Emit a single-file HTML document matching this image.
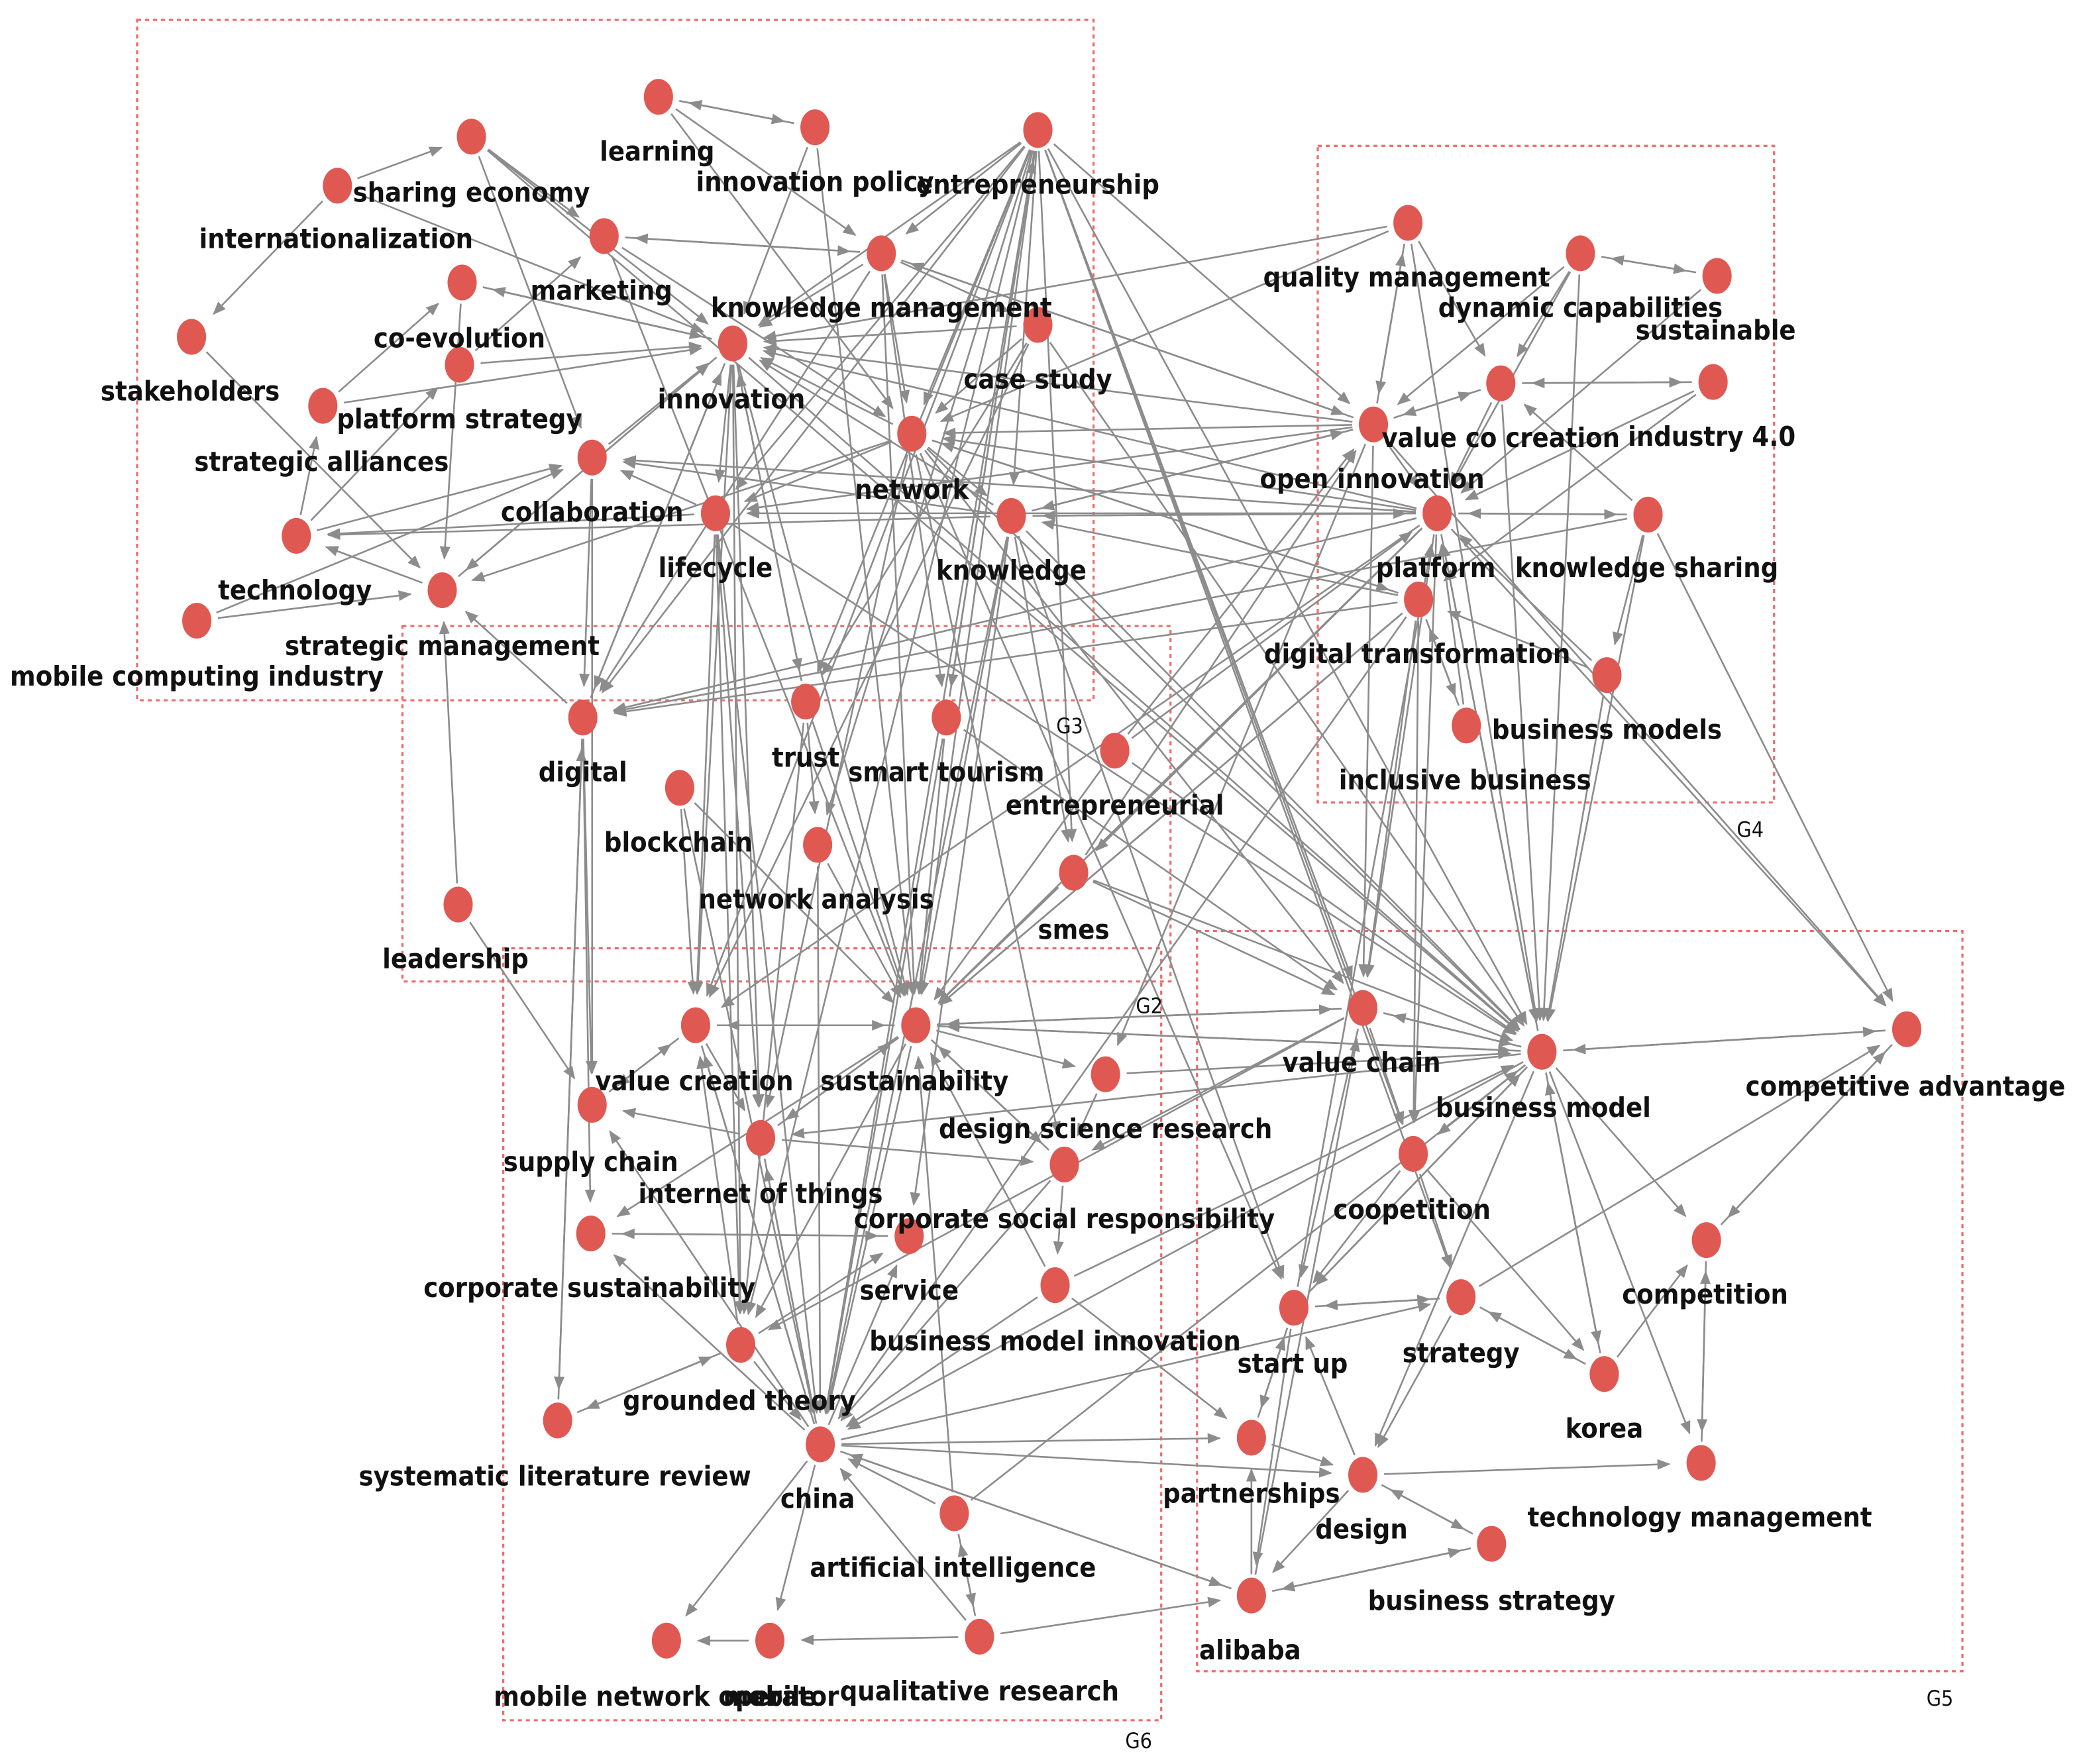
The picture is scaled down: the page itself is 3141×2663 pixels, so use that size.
<!DOCTYPE html>
<html><head><meta charset="utf-8"><style>
html,body{margin:0;padding:0;background:#fff;}
svg{display:block;}
text{font-family:"DejaVu Sans Condensed","Liberation Sans Narrow","Liberation Sans",sans-serif;font-weight:bold;font-size:20.6px;fill:#111;text-anchor:middle;}
.g{font-weight:normal;font-size:16px;}
</style></head><body>
<svg id="s" width="3141" height="2663" viewBox="0 0 1568 1330" xmlns="http://www.w3.org/2000/svg">
<defs><marker id="a" markerWidth="10" markerHeight="8" refX="9" refY="4" orient="auto" markerUnits="userSpaceOnUse"><path d="M0,0 L10,4 L0,8 Z" fill="#8c8c8c"/></marker></defs>
<g fill="none" stroke="#f06a6a" stroke-width="1.6" stroke-dasharray="3,3">
<rect x="103" y="15" width="721" height="513"/>
<rect x="993" y="110" width="344" height="495"/>
<rect x="303" y="472" width="579" height="268"/>
<rect x="902" y="702" width="577" height="558"/>
<rect x="379" y="715" width="496" height="582"/>
</g>
<g id="e" stroke="#8c8c8c" stroke-width="1.3" fill="none"></g>
<g id="n" fill="#e05852"></g>
<g>
<text class="g" x="806" y="553">G3</text><text class="g" x="1319" y="631">G4</text><text class="g" x="866" y="764">G2</text><text class="g" x="1462" y="1286">G5</text><text class="g" x="858" y="1318">G6</text>
<text x="495" y="121">learning</text>
<text x="614" y="144">innovation policy</text>
<text x="782" y="146">entrepreneurship</text>
<text x="355" y="152">sharing economy</text>
<text x="253" y="187">internationalization</text>
<text x="453" y="226">marketing</text>
<text x="664" y="239">knowledge management</text>
<text x="346" y="262">co-evolution</text>
<text x="782" y="293">case study</text>
<text x="143" y="302">stakeholders</text>
<text x="551" y="308">innovation</text>
<text x="346" y="323">platform strategy</text>
<text x="242" y="355">strategic alliances</text>
<text x="687" y="376">network</text>
<text x="446" y="393">collaboration</text>
<text x="539" y="435">lifecycle</text>
<text x="762" y="437">knowledge</text>
<text x="222" y="452">technology</text>
<text x="333" y="494">strategic management</text>
<text x="148" y="517">mobile computing industry</text>
<text x="1060" y="216">quality management</text>
<text x="1191" y="239">dynamic capabilities</text>
<text x="1293" y="256">sustainable</text>
<text x="1131" y="337">value co creation</text>
<text x="1290" y="336">industry 4.0</text>
<text x="1034" y="368">open innovation</text>
<text x="1082" y="435">platform</text>
<text x="1241" y="435">knowledge sharing</text>
<text x="1068" y="500">digital transformation</text>
<text x="1211" y="557">business models</text>
<text x="1104" y="595">inclusive business</text>
<text x="439" y="589">digital</text>
<text x="607" y="578">trust</text>
<text x="713" y="589">smart tourism</text>
<text x="840" y="614">entrepreneurial</text>
<text x="511" y="642">blockchain</text>
<text x="615" y="685">network analysis</text>
<text x="809" y="708">smes</text>
<text x="343" y="730">leadership</text>
<text x="523" y="822">value creation</text>
<text x="689" y="822">sustainability</text>
<text x="445" y="883">supply chain</text>
<text x="573" y="907">internet of things</text>
<text x="833" y="858">design science research</text>
<text x="802" y="926">corporate social responsibility</text>
<text x="1026" y="808">value chain</text>
<text x="1163" y="842">business model</text>
<text x="1436" y="826">competitive advantage</text>
<text x="444" y="978">corporate sustainability</text>
<text x="685" y="980">service</text>
<text x="795" y="1018">business model innovation</text>
<text x="1064" y="919">coopetition</text>
<text x="1285" y="983">competition</text>
<text x="974" y="1035">start up</text>
<text x="1101" y="1027">strategy</text>
<text x="1209" y="1084">korea</text>
<text x="557" y="1063">grounded theory</text>
<text x="418" y="1120">systematic literature review</text>
<text x="616" y="1137">china</text>
<text x="943" y="1133">partnerships</text>
<text x="1026" y="1160">design</text>
<text x="1281" y="1151">technology management</text>
<text x="718" y="1189">artificial intelligence</text>
<text x="1124" y="1214">business strategy</text>
<text x="942" y="1251">alibaba</text>
<text x="502" y="1286">mobile network operator</text>
<text x="580" y="1286">mobile</text>
<text x="738" y="1282">qualitative research</text>
</g>
</svg>
<script>
var N={learn:[496,73],ipol:[614,96],entre:[782,98],share:[355,103],intl:[254,140],mkt:[455,178],km:[664,191],coev:[348,213],cs:[782,245],stake:[144,254],inno:[552,259],plst:[346,275],sall:[243,306],net:[687,327],coll:[446,345],life:[539,387],know:[762,389],tech:[223,404],stm:[333,445],mci:[148,468],qm:[1061,168],dc:[1191,191],sus:[1294,208],vcc:[1131,289],i40:[1291,288],oi:[1035,320],plat:[1083,387],ks:[1242,388],dt:[1069,452],bms:[1211,509],ib:[1105,547],dig:[439,541],trust:[607,529],st:[713,541],entl:[840,566],bc:[512,594],na:[616,637],smes:[809,658],lead:[345,682],vc:[524,773],sust:[690,773],sc:[446,833],iot:[573,858],dsr:[833,810],csr:[802,878],vch:[1027,760],bm:[1162,793],ca:[1437,776],csus:[445,930],serv:[685,932],bmi:[795,969],coop:[1065,870],comp:[1286,935],su:[975,986],strat:[1101,978],korea:[1209,1036],gt:[558,1014],slr:[420,1071],china:[618,1089],part:[943,1084],des:[1027,1112],tm:[1282,1103],ai:[719,1141],bs:[1124,1164],ali:[943,1203],mno:[502,1237],mob:[580,1237],qr:[738,1234]};
var E="learn-ipol ipol-learn learn-km share-mkt share-inno intl-stake intl-share mkt-km km-mkt coev-inno inno-coev plst-inno sall-coev tech-plst tech-sall mci-stm stm-tech entre-km entre-inno entre-net entre-life entre-know entre-trust entre-st entre-na entre-sust entre-dig entre-vc entre-china entre-gt entre-smes entre-bm entre-oi cs-inno cs-net know-inno know-coll know-tech know-plat know-oi know-sust know-bm know-china net-inno net-life net-bm net-vch net-know net-stm inno-stm inno-dig inno-trust inno-sust inno-vc inno-life inno-bm km-inno km-net km-oi km-sust km-cs ipol-inno share-bm mkt-net coll-sc coll-inno life-coll life-tech life-vc life-china life-bm qm-oi qm-net qm-inno dc-vcc dc-sus sus-dc vcc-i40 i40-vcc oi-plat oi-vcc oi-net oi-inno oi-know oi-life oi-km oi-qm plat-ks ks-plat plat-know plat-sust plat-vc plat-net plat-inno plat-bm plat-life plat-dig plat-coll dt-know dt-sust dt-vch dt-dig dt-net bms-plat bms-bm ib-plat ib-dt ks-bm ks-ca vcc-bm vcc-oi i40-plat sus-plat dc-plat dc-bm qm-bm dig-sc dig-csus dig-slr dig-inno dig-stm trust-inno trust-sust trust-gt st-sust st-entre st-china entl-sust entl-oi entl-plat bc-vc bc-sust na-china na-sust smes-sust smes-bm smes-oi lead-stm lead-sc vc-sust sust-vc sust-vch vch-sust sust-dsr sust-csr sust-iot sust-csus sust-gt sust-china sust-bm bm-sust bm-vch vch-bm bm-ca ca-bm bm-comp bm-korea bm-coop bm-su bm-tm ca-comp comp-ca comp-tm vch-su vch-coop coop-strat strat-su su-strat su-part strat-korea korea-strat korea-bm des-tm des-bs bs-des ali-bs bs-ali ali-vch ali-china china-ali china-part china-des china-strat china-mno china-mob mob-mno china-sc china-csus qr-mob qr-ali qr-china ai-china ai-sust ai-bm gt-china gt-slr slr-gt csus-serv serv-csus iot-sc iot-sust csr-sust dsr-bm bmi-sust bmi-bm bmi-china csr-china part-des des-su su-bm su-plat vc-sc sc-vc vc-iot gt-vc iot-china slr-dig intl-inno stake-stm entre-vch entre-coop entre-strat know-su dt-china plat-ca oi-ca net-su inno-gt inno-iot cs-trust ks-dig bm-plat share-coll mkt-sust coev-stm plst-mkt sall-inno tech-coll stm-inno mci-coll learn-net ipol-sust km-st km-dig cs-vc cs-bm net-csr net-iot net-dt know-smes know-serv life-gt life-iot coll-dig qm-vcc dc-oi vcc-plat i40-dt ks-vcc ks-bms dt-ib bms-dt plat-vch plat-coop plat-smes oi-vch oi-dsr dt-sust dt-coop vch-csr vch-gt bm-iot bm-china bm-des coop-su coop-korea strat-des strat-ca korea-comp tm-comp des-ali part-su su-ali ali-part china-iot china-serv china-vc vc-china gt-serv iot-csr dsr-csr csr-bmi bmi-part ai-qr qr-ai smes-vch entl-bm trust-na bc-china st-vch".split(" ");
var g=document.getElementById("e"),n=document.getElementById("n"),ns="http://www.w3.org/2000/svg";
E.forEach(function(p){var k=p.split("-"),a=N[k[0]],b=N[k[1]];if(!a||!b)return;var dx=b[0]-a[0],dy=b[1]-a[1],d=Math.sqrt(dx*dx+dy*dy);if(d<40)return;var ux=dx/d,uy=dy/d;var l=document.createElementNS(ns,"line");l.setAttribute("x1",a[0]+ux*16);l.setAttribute("y1",a[1]+uy*16);l.setAttribute("x2",b[0]-ux*24);l.setAttribute("y2",b[1]-uy*24);l.setAttribute("marker-end","url(#a)");g.appendChild(l);});
for(var k in N){var c=document.createElementNS(ns,"ellipse");c.setAttribute("cx",N[k][0]);c.setAttribute("cy",N[k][1]);c.setAttribute("rx",11);c.setAttribute("ry",13.5);n.appendChild(c);}
</script>
</body></html>
